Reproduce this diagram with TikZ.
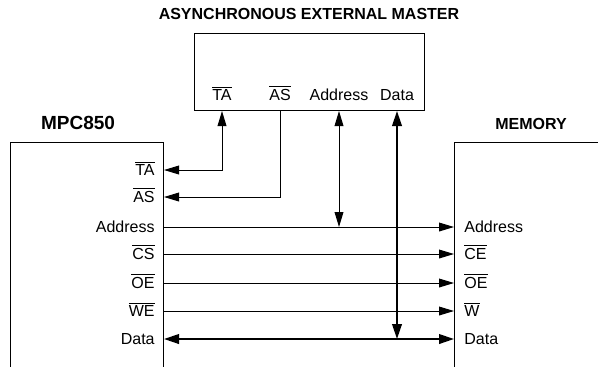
\documentclass[tikz,border=0pt]{standalone}
\usepackage{fontspec}
\setmainfont{Liberation Sans}
\usepackage{tikz}
\usetikzlibrary{positioning, arrows.meta, calc}

\newcommand{\lowsig}[1]{$\overline{\mbox{#1}}$}

\begin{document}
\begin{tikzpicture}[
      x=0.5pt, y=-0.5pt,
      font=\fontsize{8}{9.6}\selectfont,
      unit/.style={
        draw,
        line width=0.5pt,
        anchor=north west,
        inner sep=0pt
      },
      title/.style={
        font=\fontsize{8}{9.6}\selectfont\bfseries
      },
      pin/.style={
        inner sep=1pt,
        text height=5.7pt,
        text depth=0pt
      },
      sig/.style={
        line width=0.5pt,
        {Triangle[length=7.5pt,width=4.4pt]}-{Triangle[length=7.5pt,width=4.4pt]}
      },
      bus/.style={
        line width=1pt,
        {Triangle[length=7.5pt,width=4.8pt]}-{Triangle[length=7.5pt,width=4.8pt]}
      }
    ]

    \clip (0,0) rectangle (598,366);

    % the three blocks
    \node[unit, minimum width=115pt, minimum height=38.5pt] (master) at (194,33) {};
    \node[unit, minimum width=76.5pt, minimum height=120pt] (mpc) at (10,142) {};
    \node[unit, minimum width=80pt, minimum height=120pt] (mem) at (454,142) {};

    \node[title] (tmaster) at (309,14) {ASYNCHRONOUS EXTERNAL MASTER};
    \node[title, font=\fontsize{9.5}{11}\selectfont\bfseries] (tmpc) at (78,123) {MPC850};
    \node[title] (tmem) at (531,124) {MEMORY};

    % master pins
    \node[pin] (xTA) at (222,95) {\lowsig{TA}};
    \node[pin] (xAS) at (280,95) {\lowsig{AS}};
    \node[pin] (xAddr) at (339,95) {Address};
    \node[pin] (xData) at (397,95) {Data};

    % MPC850 pins
    \node[pin, anchor=east] (mTA) at (157,170) {\lowsig{TA}};
    \node[pin, anchor=east] (mAS) at (157,197) {\lowsig{AS}};
    \node[pin, anchor=east] (mAddr) at (157,227) {Address};
    \node[pin, anchor=east] (mCS) at (157,254) {\lowsig{CS}};
    \node[pin, anchor=east] (mOE) at (157,283) {\lowsig{OE}};
    \node[pin, anchor=east] (mWE) at (157,311) {\lowsig{WE}};
    \node[pin, anchor=east] (mData) at (157,339) {Data};

    % memory pins
    \node[pin, anchor=west] (rAddr) at (462,227) {Address};
    \node[pin, anchor=west] (rCE) at (462,254) {\lowsig{CE}};
    \node[pin, anchor=west] (rOE) at (462,283) {\lowsig{OE}};
    \node[pin, anchor=west] (rW) at (462,311) {\lowsig{W}};
    \node[pin, anchor=west] (rData) at (462,339) {Data};

    % control lines
    \draw[sig] (mpc.east |- mTA) -| (master.south -| xTA);
    \draw[sig, -{Triangle[length=7.5pt,width=4.4pt]}] (master.south -| xAS) |- (mpc.east |- mAS);
    \draw[sig, -{Triangle[length=7.5pt,width=4.4pt]}] (mpc.east |- mAddr) -- (mem.west |- rAddr);
    \draw[sig, -{Triangle[length=7.5pt,width=4.4pt]}] (mpc.east |- mCS) -- (mem.west |- rCE);
    \draw[sig, -{Triangle[length=7.5pt,width=4.4pt]}] (mpc.east |- mOE) -- (mem.west |- rOE);
    \draw[sig, -{Triangle[length=7.5pt,width=4.4pt]}] (mpc.east |- mWE) -- (mem.west |- rW);
    \draw[sig] (master.south -| xAddr) -- (xAddr |- mAddr);

    % data bus
    \draw[bus] (mpc.east |- mData) -- (mem.west |- rData);
    \draw[bus] (master.south -| xData) -- (xData |- mData);

    \end{tikzpicture}
\end{document}
